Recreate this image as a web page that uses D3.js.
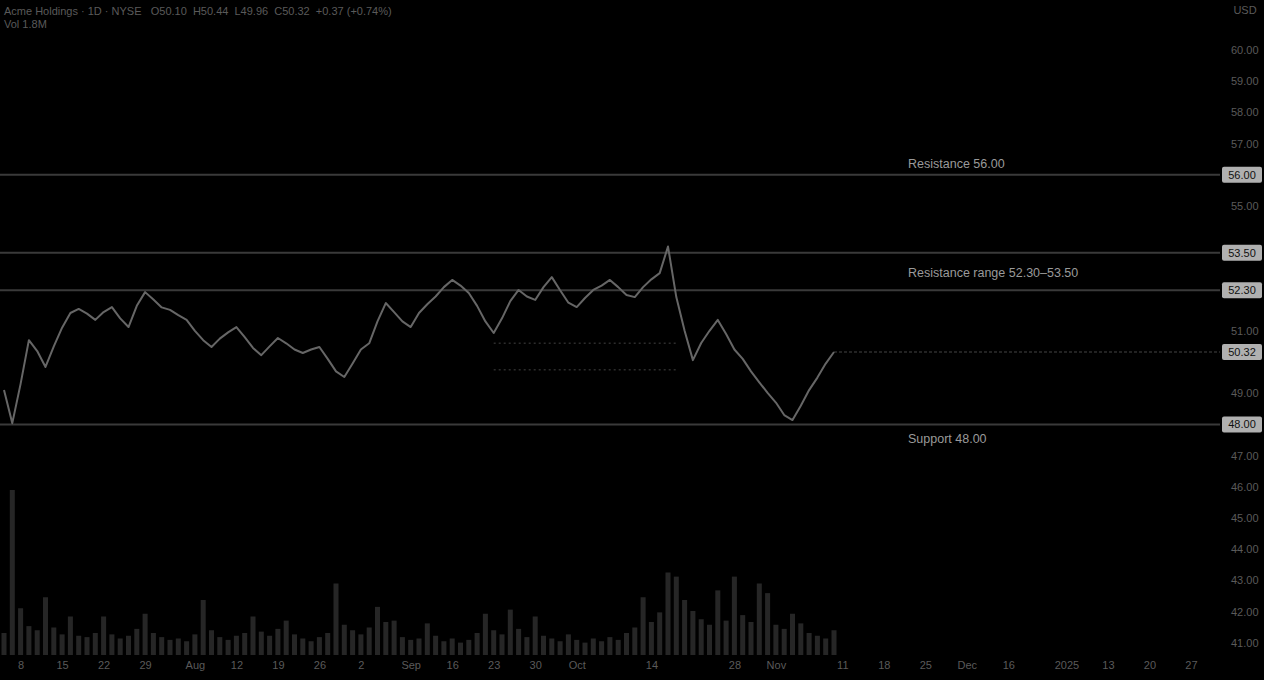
<!DOCTYPE html>
<html>
<head>
<meta charset="utf-8">
<script src="https://cdn.jsdelivr.net/npm/d3@7"></script>
<style>
  html, body { margin: 0; padding: 0; background: #000; }
  svg { display: block; }
  text { font-family: "Liberation Sans", "DejaVu Sans", sans-serif; }
</style>
</head>
<body>
<svg id="chart" width="1264" height="680"></svg>
<script>
// ---------- DATA ----------
const closes = [
  49.10, 48.04, 49.30, 50.70, 50.35, 49.84, 50.50, 51.10, 51.57, 51.70,
  51.55, 51.35, 51.60, 51.76, 51.40, 51.12, 51.80, 52.24, 52.00, 51.75,
  51.67, 51.50, 51.35, 51.00, 50.70, 50.48, 50.75, 50.95, 51.12, 50.80,
  50.45, 50.22, 50.50, 50.77, 50.60, 50.40, 50.29, 50.40, 50.48, 50.10,
  49.70, 49.52, 49.95, 50.40, 50.60, 51.30, 51.89, 51.60, 51.30, 51.12,
  51.57, 51.85, 52.10, 52.40, 52.63, 52.45, 52.21, 51.80, 51.30, 50.93,
  51.40, 51.95, 52.31, 52.10, 51.99, 52.40, 52.72, 52.30, 51.90, 51.76,
  52.05, 52.31, 52.45, 52.63, 52.40, 52.15, 52.08, 52.40, 52.65, 52.85,
  53.70, 52.08, 51.00, 50.06, 50.61, 51.00, 51.35, 50.90, 50.40, 50.10,
  49.70, 49.35, 49.01, 48.70, 48.30, 48.14, 48.60, 49.10, 49.50, 49.95,
  50.32
];
const volumes = [
  1.6, 12.0, 3.4, 2.1, 1.8, 4.2, 2.0, 1.5, 2.8, 1.4,
  1.3, 1.6, 2.8, 1.5, 1.2, 1.4, 1.9, 3.0, 1.6, 1.3,
  1.1, 1.2, 1.0, 1.5, 4.0, 1.8, 1.3, 1.1, 1.4, 1.6,
  2.8, 1.7, 1.4, 1.9, 2.5, 1.5, 1.2, 1.0, 1.3, 1.6,
  5.2, 2.2, 1.8, 1.5, 2.0, 3.5, 2.4, 2.5, 1.3, 1.1,
  1.2, 2.3, 1.4, 1.0, 1.2, 0.9, 1.1, 1.6, 3.0, 1.8,
  1.5, 3.3, 1.9, 1.3, 2.8, 1.4, 1.2, 1.0, 1.5, 1.1,
  0.9, 1.2, 1.0, 1.3, 1.1, 1.6, 2.0, 4.2, 2.4, 3.1,
  6.0, 5.7, 4.0, 3.2, 2.6, 2.2, 4.7, 2.5, 5.7, 2.9,
  2.4, 5.2, 4.5, 2.2, 1.9, 3.0, 2.3, 1.6, 1.4, 1.2,
  1.8
];
const priceTicks = [41,42,43,44,45,46,47,48,49,50,51,52,53,54,55,56,57,58,59,60];
const levels = [
  { name: "Resistance", value: 56.00, label: "Resistance 56.00", pos: "above" },
  { name: "RangeHigh", value: 53.50, label: "", pos: "none" },
  { name: "RangeLow", value: 52.30, label: "Resistance range 52.30–53.50", pos: "between" },
  { name: "Support", value: 48.00, label: "Support 48.00", pos: "below" }
];
const dottedLevels = [50.60, 49.75];
const dottedFrom = 59, dottedTo = 81;
const lastPrice = 50.32;
const tickIndex = [2,7,12,17,23,28,33,38,43,49,54,59,64,69,78,88,93,101,106,111,116,121,128,133,138,143];
const tickText  = ["8","15","22","29","Aug","12","19","26","2","Sep","16","23","30","Oct","14","28","Nov","11","18","25","Dec","16","2025","13","20","27"];
const titleText = "Acme Holdings · 1D · NYSE   O50.10  H50.44  L49.96  C50.32  +0.37 (+0.74%)";
const volText = "Vol 1.8M";

// ---------- LAYOUT ----------
const W = 1264, H = 680;
const plotRight = 1220;
const svg = d3.select("#chart");
svg.append("rect").attr("width", W).attr("height", H).attr("fill", "#000");

const x = d3.scaleLinear().domain([0, 145]).range([4, 4 + 8.3 * 145]);
const y = d3.scaleLinear().domain([40.609, 61.603]).range([655, 0]);
const yv = d3.scaleLinear().domain([0, 12]).range([655, 490]);

// volume bars
svg.append("g").selectAll("rect").data(volumes).join("rect")
  .attr("x", (d, i) => x(i) - 2.5)
  .attr("width", 5)
  .attr("y", d => yv(d))
  .attr("height", d => yv(0) - yv(d))
  .attr("fill", "#262626");

// horizontal level lines
svg.append("g").selectAll("line").data(levels).join("line")
  .attr("x1", 0).attr("x2", plotRight)
  .attr("y1", d => y(d.value)).attr("y2", d => y(d.value))
  .attr("stroke", "#3a3a3a").attr("stroke-width", 2);

// dotted lines in middle
svg.append("g").selectAll("line").data(dottedLevels).join("line")
  .attr("x1", x(dottedFrom)).attr("x2", x(dottedTo))
  .attr("y1", d => y(d)).attr("y2", d => y(d))
  .attr("stroke", "#2c2c2c").attr("stroke-width", 1.5)
  .attr("stroke-dasharray", "2,3");

// last price line
svg.append("line")
  .attr("x1", x(closes.length - 1)).attr("x2", plotRight)
  .attr("y1", y(lastPrice)).attr("y2", y(lastPrice))
  .attr("stroke", "#2e2e2e").attr("stroke-width", 1.5)
  .attr("stroke-dasharray", "3,2");

// price line
const line = d3.line().x((d, i) => x(i)).y(d => y(d));
svg.append("path").datum(closes)
  .attr("d", line)
  .attr("fill", "none")
  .attr("stroke", "#666")
  .attr("stroke-width", 2)
  .attr("stroke-linejoin", "round");

// level annotation labels
const lblG = svg.append("g");
levels.forEach((d) => {
  if (!d.label) return;
  let ty;
  if (d.pos === "above") ty = y(d.value) - 7;
  else if (d.pos === "below") ty = y(d.value) + 19;
  else ty = (y(levels[1].value) + y(d.value)) / 2 + 5;
  lblG.append("text").attr("x", 908).attr("y", ty)
    .attr("fill", "#9a9a9a").attr("font-size", 12.5).text(d.label);
});

// right price axis
const boxVals = levels.map(d => d.value).concat([lastPrice]);
const boxYs = boxVals.map(v => y(v));
const visibleTicks = priceTicks.filter(t => boxYs.every(by => Math.abs(by - y(t)) >= 19));
const axisR = d3.axisRight(y).tickValues(visibleTicks).tickSize(0).tickPadding(0)
  .tickFormat(d3.format(".2f"));
const gAx = svg.append("g").attr("transform", `translate(${1231},0)`).call(axisR);
gAx.select(".domain").remove();
gAx.selectAll("text").attr("fill", "#5a5a5a").attr("font-size", 11)
  .attr("font-family", "Liberation Sans, sans-serif");

// highlighted price boxes
const bx = svg.append("g");
boxVals.forEach(v => {
  bx.append("rect").attr("x", 1222).attr("y", y(v) - 8).attr("width", 40).attr("height", 16)
    .attr("rx", 2).attr("fill", "#b0b0b0");
  bx.append("text").attr("x", 1242).attr("y", y(v) + 4).attr("text-anchor", "middle")
    .attr("fill", "#111").attr("font-size", 11).text(d3.format(".2f")(v));
});
svg.append("text").attr("x", 1245).attr("y", 14).attr("text-anchor", "middle")
  .attr("fill", "#5a5a5a").attr("font-size", 11).text("USD");

// bottom time axis
const axisB = d3.axisBottom(x).tickValues(tickIndex).tickSize(0).tickPadding(0)
  .tickFormat((d, i) => tickText[i]);
const gB = svg.append("g").attr("transform", "translate(0,661)").call(axisB);
gB.select(".domain").remove();
gB.selectAll("text").attr("fill", "#5a5a5a").attr("font-size", 11)
  .attr("font-family", "Liberation Sans, sans-serif");

// title
svg.append("text").attr("x", 4).attr("y", 15).attr("fill", "#5a5a5a")
  .attr("font-size", 11).attr("xml:space", "preserve").style("white-space", "pre").text(titleText);
svg.append("text").attr("x", 4).attr("y", 28).attr("fill", "#5a5a5a")
  .attr("font-size", 11).text(volText);
</script>
</body>
</html>
